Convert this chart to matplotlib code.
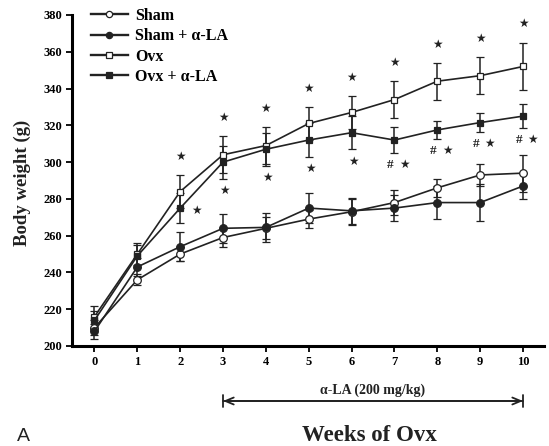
import matplotlib
matplotlib.use('Agg')
import matplotlib.pyplot as plt
import matplotlib.transforms as mtransforms
import numpy as np

weeks = np.arange(0, 11)

sham = np.array([210, 236, 250, 259, 264, 269, 273, 278, 286, 293, 294])
sham_err = np.array([4, 3, 4, 5, 6, 5, 7, 7, 5, 6, 10])
sham_la = np.array([208, 243, 254, 264, 264.5, 275, 273.5, 275, 278, 278, 287])
sham_la_err = np.array([4, 5, 8, 8, 8, 8, 7, 7, 9, 10, 7])
ovx = np.array([216, 250, 284, 304, 309, 321, 327, 334, 344, 347, 352])
ovx_err = np.array([6, 6, 9, 10, 10, 9, 9, 10, 10, 10, 13])
ovx_la = np.array([214, 249, 275, 300, 307, 312, 316, 312, 317.5, 321.5, 325])
ovx_la_err = np.array([5, 6, 8, 9, 9, 9, 9, 7, 5, 5, 6.5])

# significance marks
star_above_weeks = [2, 3, 4, 5, 6, 7, 8, 9, 10]
star_below_weeks = [3, 4, 5, 6]
hash_star_weeks = [7, 8, 9, 10]
side_star_week = 2

serif = 'Liberation Serif'
col = '#222222'

fig = plt.figure(figsize=(5.49, 4.46), dpi=100)
ax = fig.add_axes([72/549, 1-346/446, 472/549, 331/446])

styles = [
    (sham, sham_err, 'o', 'white', 'Sham'),
    (sham_la, sham_la_err, 'o', col, 'Sham + \u03b1-LA'),
    (ovx, ovx_err, 's', 'white', 'Ovx'),
    (ovx_la, ovx_la_err, 's', col, 'Ovx + \u03b1-LA'),
]
handles = []
for y, e, m, fc, lab in styles:
    ms = 5.5 if m == 'o' else 5
    ax.errorbar(weeks, y, yerr=e, color=col, lw=1.2, elinewidth=1.1,
                capsize=3.2, capthick=1.1, marker=m, ms=ms,
                mfc=fc, mec=col, mew=0.9)
    h, = ax.plot([], [], color=col, lw=1.7, marker=m, ms=ms - 1,
                 mfc=fc, mec=col, mew=0.9, label=lab)
    handles.append(h)

ax.set_xlim(-0.525, 10.49)
ax.set_ylim(200, 380)
ax.set_xticks(weeks)
ax.set_yticks(np.arange(200, 381, 20))
for s in ['top', 'right']:
    ax.spines[s].set_visible(False)
for s in ['left', 'bottom']:
    ax.spines[s].set_linewidth(2.2)
ax.tick_params(direction='out', length=4, width=1.3, pad=3, labelsize=9)
for lbl in ax.get_xticklabels() + ax.get_yticklabels():
    lbl.set_fontfamily(serif)
    lbl.set_fontweight('bold')

# stars
sf = 8.5
for w in star_above_weeks:
    ax.annotate('\u2605', (w, ovx[w] + ovx_err[w]), xytext=(0, 13.5),
                textcoords='offset points', ha='center', va='center',
                fontsize=sf, color=col)
for w in star_below_weeks:
    ax.annotate('\u2605', (w, ovx_la[w] - ovx_la_err[w]), xytext=(1, -8.5),
                textcoords='offset points', ha='center', va='center',
                fontsize=sf, color=col)
for w in hash_star_weeks:
    ax.annotate('#', (w, ovx_la[w] - ovx_la_err[w]), xytext=(-3, -8.5),
                textcoords='offset points', ha='center', va='center',
                fontsize=9.5, fontfamily=serif, fontweight='bold', color=col)
    ax.annotate('\u2605', (w, ovx_la[w] - ovx_la_err[w]), xytext=(7, -8.5),
                textcoords='offset points', ha='center', va='center',
                fontsize=sf, color=col)
ax.annotate('\u2605', (side_star_week, ovx_la[side_star_week]), xytext=(11.5, -1.5),
            textcoords='offset points', ha='center', va='center',
            fontsize=sf, color=col)

leg = ax.legend(handles=handles, loc='upper left',
                bbox_to_anchor=(19/472, 1 + 7/331),
                frameon=False, borderpad=0, borderaxespad=0,
                handlelength=2.3, handletextpad=0.45, labelspacing=0.27,
                prop={'family': serif, 'weight': 'bold', 'size': 11.5})

# treatment arrow below the axis
trans = mtransforms.blended_transform_factory(ax.transData, fig.transFigure)
ya = 1 - 401/446
ax.annotate('', xy=(10, ya), xytext=(3, ya), xycoords=trans, textcoords=trans,
            arrowprops=dict(arrowstyle='<->,head_length=0.6,head_width=0.25',
                            color=col, lw=1.3, shrinkA=0, shrinkB=0))
ax.annotate('', xy=(10, ya), xytext=(3, ya), xycoords=trans, textcoords=trans,
            arrowprops=dict(arrowstyle='|-|,widthA=0.45,widthB=0.45',
                            color=col, lw=1.3, shrinkA=0, shrinkB=0))
ax.text(6.5, 1 - 390/446, '\u03b1-LA (200 mg/kg)', transform=trans,
        ha='center', va='center', fontsize=10, fontfamily=serif,
        fontweight='bold', color=col)
ax.text(6.42, 1 - 441/446, 'Weeks of Ovx', transform=trans, ha='center',
        va='baseline', fontsize=16.5, fontfamily=serif, fontweight='bold', color=col)
fig.text(23/549, 1 - 441/446, 'A', ha='center', va='baseline', fontsize=14,
         fontfamily='Liberation Sans', color=col)
fig.text(22/549, 1 - 183/446, 'Body weight (g)', rotation=90, ha='center',
         va='center', fontsize=13.5, fontfamily=serif, fontweight='bold', color=col)

fig.savefig('out.png', dpi=100)
